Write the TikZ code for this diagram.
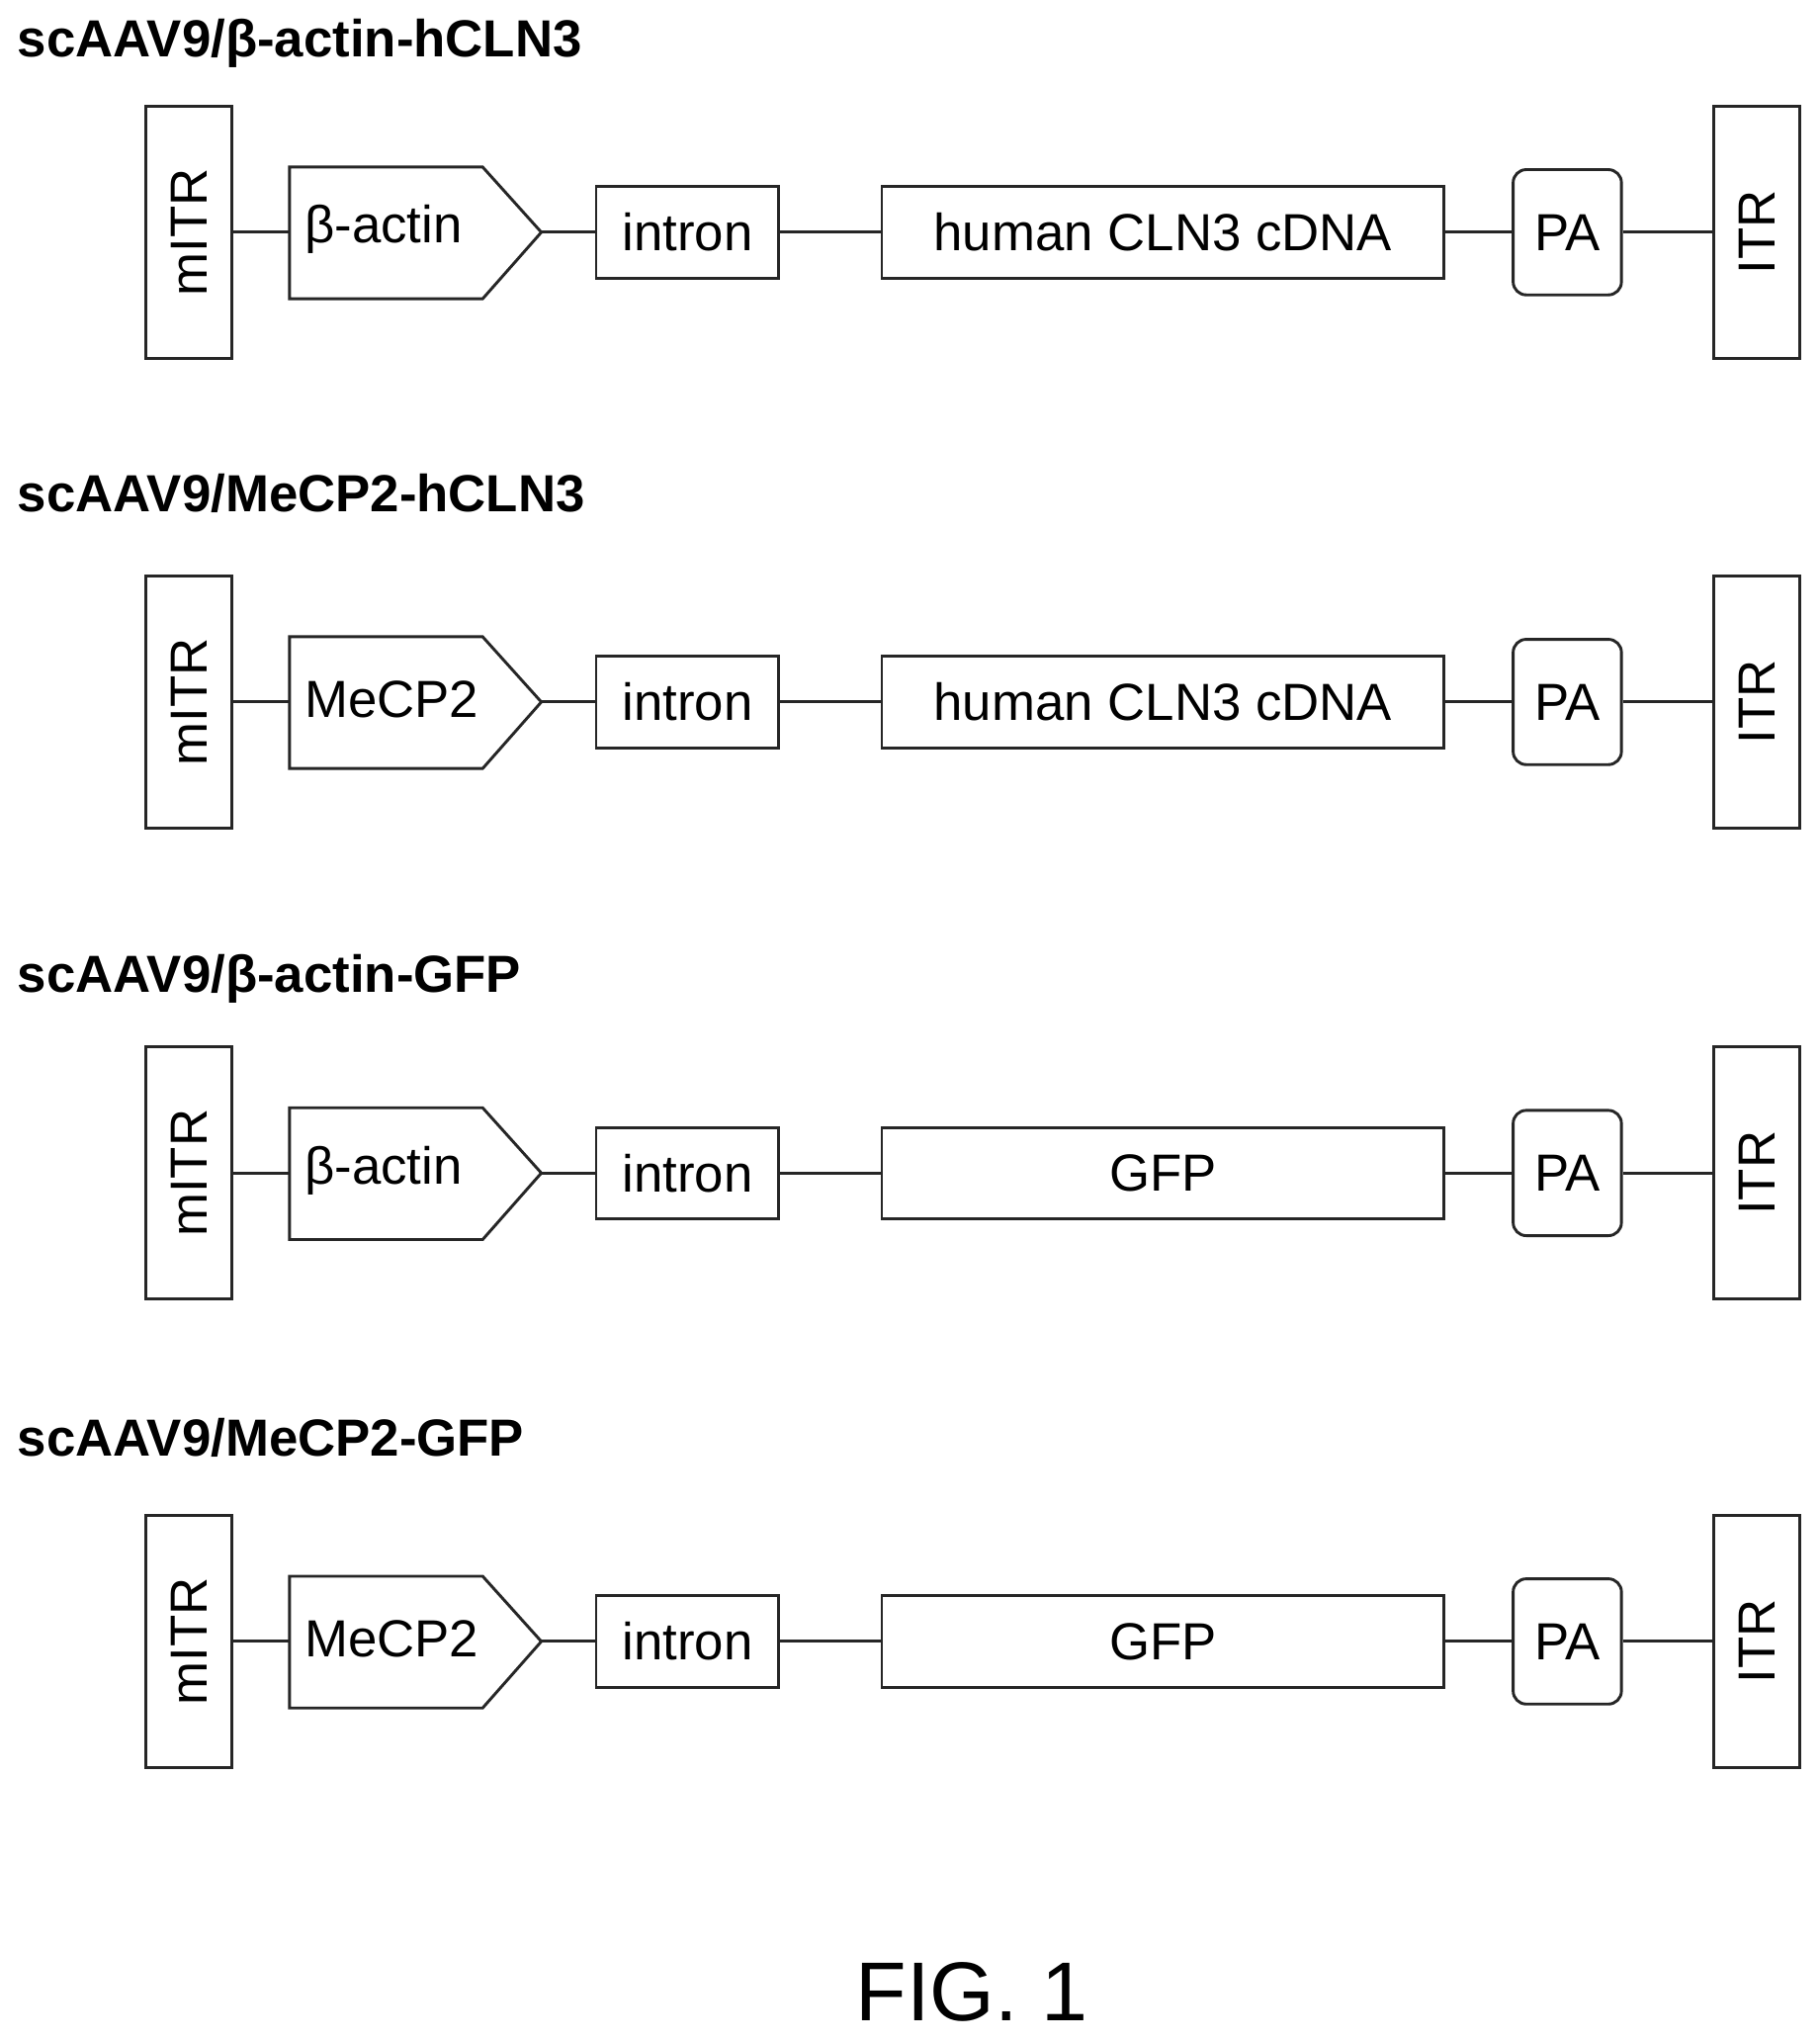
\documentclass[tikz,border=0pt]{standalone}
\usepackage{fontspec}
\setmainfont{Liberation Sans}
\begin{document}
\begin{tikzpicture}[x=1pt,y=-1pt,
  lbl/.style={font=\fontsize{40}{44}\selectfont},
  blk/.style={draw=black!85,line width=2.2pt,inner sep=0pt,lbl},
  ttl/.style={anchor=west,font=\bfseries\fontsize{40}{44}\selectfont},
  ln/.style={draw=black!85,line width=2.2pt}]
\useasboundingbox (0,0) rectangle (1395,1565);
\foreach \i/\y/\ty/\t/\p/\g in {
  1/178/33/{scAAV9/β-actin-hCLN3}/{β-actin}/{human CLN3 cDNA},
  2/538/378/{scAAV9/MeCP2-hCLN3}/{MeCP2}/{human CLN3 cDNA},
  3/899/750/{scAAV9/β-actin-GFP}/{β-actin}/{GFP},
  4/1258/1102/{scAAV9/MeCP2-GFP}/{MeCP2}/{GFP}}{
  \node[ttl] (t\i) at (10,\ty) {\t};
  \node[blk,minimum width=66pt,minimum height=193pt] (m\i) at (145,\y) {};
  \node[rotate=90,lbl] (mt\i) at (m\i) {mITR};
  \draw[ln] (222,\y-50) -- (370,\y-50) -- (415,\y) -- (370,\y+51) -- (222,\y+51) -- cycle;
  \coordinate (pl\i) at (222,\y); \coordinate (pr\i) at (415,\y);
  \node[anchor=west,lbl] (p\i) at (230,\y-2) {\p};
  \node[blk,minimum width=140pt,minimum height=70pt] (in\i) at (527,\y) {intron};
  \node[blk,minimum width=431pt,minimum height=70pt] (g\i) at (891.5,\y) {\g};
  \node[blk,rounded corners=10pt,minimum width=83pt,minimum height=96pt] (pa\i) at (1201.5,\y) {PA};
  \node[blk,minimum width=66pt,minimum height=193pt] (r\i) at (1347,\y) {};
  \node[rotate=90,lbl] (rt\i) at (r\i) {ITR};
  \draw[ln] (m\i.east) -- (pl\i);
  \draw[ln] (pr\i) -- (in\i.west);
  \draw[ln] (in\i.east) -- (g\i.west);
  \draw[ln] (g\i.east) -- (pa\i.west);
  \draw[ln] (pa\i.east) -- (r\i.west);
}
\node[font=\fontsize{64}{68}\selectfont] (fig) at (745,1527) {FIG. 1};
\end{tikzpicture}
\end{document}
